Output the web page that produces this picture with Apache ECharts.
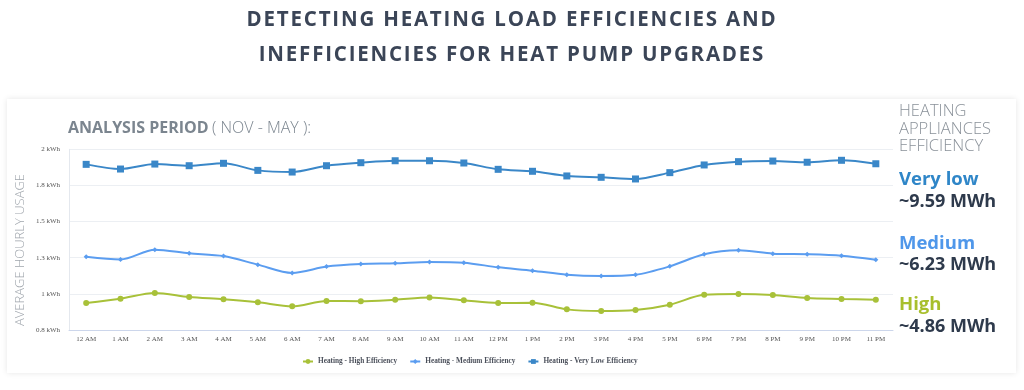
<!DOCTYPE html>
<html><head><meta charset="utf-8">
<script src="https://cdn.jsdelivr.net/npm/echarts@6/dist/echarts.min.js"></script>
<style>
html,body{margin:0;padding:0;background:#fff;}
#wrap{position:relative;width:1024px;height:390px;}
#c{position:absolute;left:0;top:0;width:1024px;height:390px;}
#t{position:absolute;left:0;top:0;width:1024px;text-align:center;font-family:"Open Sans","Noto Sans",sans-serif;font-weight:700;font-size:20.5px;letter-spacing:1.8px;color:#3b4557;line-height:34.7px;padding-top:1px;z-index:2;}
</style>
</head><body><div id="wrap"><div id="c"></div><div id="t">DETECTING HEATING LOAD EFFICIENCIES AND<br>INEFFICIENCIES FOR HEAT PUMP UPGRADES</div></div>
<script>
const hours = ['12 AM','1 AM','2 AM','3 AM','4 AM','5 AM','6 AM','7 AM','8 AM','9 AM','10 AM','11 AM','12 PM','1 PM','2 PM','3 PM','4 PM','5 PM','6 PM','7 PM','8 PM','9 PM','10 PM','11 PM'];
const highEff = [0.979,1.008,1.046,1.019,1.004,0.984,0.957,0.993,0.991,1.001,1.015,0.997,0.979,0.981,0.937,0.926,0.933,0.968,1.034,1.039,1.032,1.012,1.006,1.001];
const mediumEff = [1.287,1.269,1.333,1.309,1.291,1.234,1.179,1.221,1.238,1.243,1.252,1.247,1.216,1.194,1.167,1.159,1.167,1.223,1.303,1.329,1.307,1.303,1.293,1.267];
const veryLowEff = [1.900,1.869,1.902,1.891,1.907,1.860,1.849,1.891,1.911,1.924,1.924,1.909,1.867,1.854,1.823,1.814,1.803,1.845,1.896,1.918,1.922,1.914,1.927,1.904];
const yTicks = [0.8,1.04,1.28,1.52,1.76,2];
const yTickLabels = ['0.8 kWh','1 kWh','1.3 kWh','1.5 kWh','1.8 kWh','2 kWh'];
const seriesNames = ['Heating - High Efficiency','Heating - Medium Efficiency','Heating - Very Low Efficiency'];
const panelLevels = ['Very low','Medium','High'];
const panelTotals = ['~9.59 MWh','~6.23 MWh','~4.86 MWh'];

const colHigh = '#a8c139', colMed = '#5b9df0', colVL = '#3a87c8';
const chart = echarts.init(document.getElementById('c'), null, {renderer:'canvas'});
const labelFor = v => { let i = yTicks.findIndex(t => Math.abs(t - v) < 1e-6); return i >= 0 ? yTickLabels[i] : ''; };
const sans = '"Open Sans", "Noto Sans", sans-serif';
const serif = '"Liberation Serif", "DejaVu Serif", serif';
const hdr = (txt, y) => ({type:'text', x:899, y:y, style:{text:txt, fontFamily:sans, fontWeight:300, fontSize:16.5, fill:'#8a9199', verticalAlign:'middle'}});
const lvl = (txt, y, c) => ({type:'text', x:899, y:y, style:{text:txt, fontFamily:sans, fontWeight:700, fontSize:18.5, fill:c, verticalAlign:'middle'}});
const tot = (txt, y) => ({type:'text', x:899, y:y, style:{text:txt, fontFamily:sans, fontWeight:700, fontSize:18, fill:'#2e3a4c', verticalAlign:'middle'}});
chart.setOption({
  animation:false,
  graphic:[
    {type:'rect', shape:{x:7,y:99,width:1009,height:274}, style:{fill:'#fff', shadowBlur:6, shadowColor:'rgba(0,0,0,0.10)'}, z:-10},
    {type:'text', left:68, top:120, style:{text:'{b|ANALYSIS PERIOD} {l|( NOV - MAY ):}', rich:{
      b:{fontFamily:sans,fontWeight:700,fontSize:16,fill:'#7b858f'},
      l:{fontFamily:sans,fontWeight:300,fontSize:16,fill:'#7b858f'}}}},
    {type:'text', x:20.5, y:250, rotation:Math.PI/2, style:{text:'AVERAGE HOURLY USAGE', fontFamily:sans, fontWeight:300, fontSize:13, fill:'#a0a6ad', align:'center', verticalAlign:'middle'}},
    hdr('HEATING', 111.5), hdr('APPLIANCES', 129), hdr('EFFICIENCY', 146.5),
    lvl(panelLevels[0], 180, '#2f86c8'), tot(panelTotals[0], 202),
    lvl(panelLevels[1], 243.5, '#4f97ea'), tot(panelTotals[1], 265),
    lvl(panelLevels[2], 305, '#a8bf2c'), tot(panelTotals[2], 326.5)
  ],
  grid:{left:69, right:131, top:149.3, bottom:60},
  legend:{
    top:353, left:297, itemGap:12, itemWidth:10, itemHeight:6,
    textStyle:{fontFamily:serif, fontWeight:'bold', fontSize:7.3, color:'#4a4f5a'},
    data:seriesNames
  },
  xAxis:{
    type:'category', data:hours, boundaryGap:true,
    axisLine:{lineStyle:{color:'#ccd6eb'}}, axisTick:{show:false},
    axisLabel:{fontFamily:serif, fontSize:7, color:'#555', margin:6, interval:0}
  },
  yAxis:{
    type:'value', min:0.8, max:2,
    axisLine:{show:true, lineStyle:{color:'#e4e8ee'}},
    axisTick:{show:false, customValues:yTicks},
    axisLabel:{customValues:yTicks, formatter:labelFor, fontFamily:serif, fontSize:7, color:'#555', margin:9},
    splitLine:{lineStyle:{color:'#eceff3'}}
  },
  series:[
    {name:seriesNames[0], type:'line', smooth:0.3, data:highEff, color:colHigh, symbol:'circle', symbolSize:6, lineStyle:{width:2}},
    {name:seriesNames[1], type:'line', smooth:0.3, data:mediumEff, color:colMed, symbol:'diamond', symbolSize:5, lineStyle:{width:2}},
    {name:seriesNames[2], type:'line', smooth:0.3, data:veryLowEff, color:colVL, symbol:'rect', symbolSize:7, lineStyle:{width:2}}
  ]
});
</script></body></html>
